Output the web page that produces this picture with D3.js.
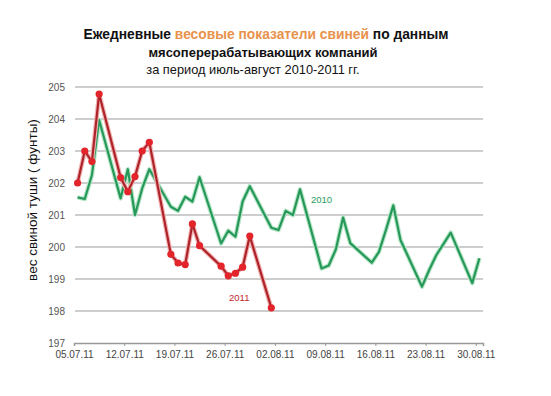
<!DOCTYPE html>
<html>
<head>
<meta charset="utf-8">
<script src="https://cdn.jsdelivr.net/npm/d3@7"></script>
<style>
  html, body { margin: 0; padding: 0; background: #fff; }
  svg { display: block; font-family: "Liberation Sans", Arial, sans-serif; }
</style>
</head>
<body>
<svg id="chart" width="551" height="396"></svg>
<script>
// ---- data ----
const dates2011 = ["2011-07-05","2011-07-06","2011-07-07","2011-07-08","2011-07-11","2011-07-12","2011-07-13","2011-07-14","2011-07-15","2011-07-18","2011-07-19","2011-07-20","2011-07-21","2011-07-22","2011-07-25","2011-07-26","2011-07-27","2011-07-28","2011-07-29","2011-08-01"];
const values2011 = [202.0,203.0,202.67,204.78,202.17,201.73,202.2,203.0,203.27,199.77,199.5,199.45,200.72,200.04,199.4,199.1,199.18,199.37,200.34,198.1];

const dates2010 = ["2011-07-05","2011-07-06","2011-07-07","2011-07-08","2011-07-11","2011-07-12","2011-07-13","2011-07-14","2011-07-15","2011-07-18","2011-07-19","2011-07-20","2011-07-21","2011-07-22","2011-07-25","2011-07-26","2011-07-27","2011-07-28","2011-07-29","2011-08-01","2011-08-02","2011-08-03","2011-08-04","2011-08-05","2011-08-08","2011-08-09","2011-08-10","2011-08-11","2011-08-12","2011-08-15","2011-08-16","2011-08-17","2011-08-18","2011-08-19","2011-08-22","2011-08-23","2011-08-24","2011-08-25","2011-08-26","2011-08-29","2011-08-30"];
const values2010 = [201.55,201.5,202.25,203.97,201.52,202.43,201.0,201.83,202.43,201.26,201.13,201.57,201.42,202.18,200.11,200.51,200.32,201.42,201.9,200.6,200.53,201.13,201.0,201.8,199.33,199.42,199.93,200.92,200.12,199.51,199.85,200.55,201.3,200.22,198.76,199.28,199.75,200.1,200.45,198.87,199.65];

const xTickDates = ["2011-07-05","2011-07-12","2011-07-19","2011-07-26","2011-08-02","2011-08-09","2011-08-16","2011-08-23","2011-08-30"];
const yTicks = [197,198,199,200,201,202,203,204,205];
const seriesNames = ["2010","2011"];

// ---- setup ----
const parse = d3.utcParse("%Y-%m-%d");
const fmt = d3.utcFormat("%d.%m.%y");
const svg = d3.select("#chart");

const x = d3.scaleUtc()
  .domain([parse("2011-07-05"), parse("2011-08-31")])
  .range([74, 483]);
const y = d3.scaleLinear().domain([197, 205]).range([343, 87]);

const noon = s => d3.utcHour.offset(parse(s), 12);

// gridlines
svg.append("g")
  .selectAll("line")
  .data(yTicks.filter(v => v !== 197))
  .join("line")
  .attr("x1", 75).attr("x2", 483)
  .attr("y1", d => y(d)).attr("y2", d => y(d))
  .attr("stroke", "#bdbdbd").attr("stroke-width", 1.5);

// y labels
svg.append("g")
  .selectAll("text")
  .data(yTicks)
  .join("text")
  .attr("x", 65).attr("y", d => y(d))
  .attr("dy", "0.35em")
  .attr("text-anchor", "end")
  .attr("font-size", 10)
  .attr("fill", "#555")
  .text(d => d);

// x axis
const xAxis = d3.axisBottom(x)
  .tickValues(xTickDates.map(parse))
  .tickFormat(fmt)
  .tickSize(3)
  .tickPadding(5);
const gx = svg.append("g").attr("transform", "translate(0,343)").call(xAxis);
gx.select(".domain").attr("stroke", "#999").attr("stroke-width", 1.5);
gx.selectAll(".tick line").attr("stroke", "#999");
gx.selectAll(".tick text").attr("font-size", 10).attr("fill", "#444")
  .attr("font-family", "'Liberation Sans', Arial, sans-serif");

// y title
svg.append("text")
  .attr("transform", "translate(37,200) rotate(-90)")
  .attr("text-anchor", "middle")
  .attr("font-size", 13.5)
  .attr("fill", "#111")
  .text("вес свиной туши ( фунты)");

// lines
const line = d3.line().x(d => x(noon(d[0]))).y(d => y(d[1]));
const d10 = dates2010.map((d, i) => [d, values2010[i]]);
const d11 = dates2011.map((d, i) => [d, values2011[i]]);

svg.append("path").datum(d10).attr("d", line)
  .attr("fill", "none").attr("stroke", "#b9e6c8").attr("stroke-width", 4.5)
  .attr("stroke-linejoin", "round");
svg.append("path").datum(d10).attr("d", line)
  .attr("fill", "none").attr("stroke", "#26995a").attr("stroke-width", 2.2)
  .attr("stroke-linejoin", "round");

svg.append("path").datum(d11).attr("d", line)
  .attr("fill", "none").attr("stroke", "#f1b3b3").attr("stroke-width", 4.5)
  .attr("stroke-linejoin", "round");
svg.append("path").datum(d11).attr("d", line)
  .attr("fill", "none").attr("stroke", "#ad2329").attr("stroke-width", 2.2)
  .attr("stroke-linejoin", "round");
svg.append("g").selectAll("circle").data(d11).join("circle")
  .attr("cx", d => x(noon(d[0]))).attr("cy", d => y(d[1]))
  .attr("r", 3.6).attr("fill", "#e3242b");

// series labels
svg.append("text").attr("x", 311).attr("y", 202.5)
  .attr("font-size", 9.5).attr("fill", "#2a9a5a").text(seriesNames[0]);
svg.append("text").attr("x", 229).attr("y", 300.5)
  .attr("font-size", 9.5).attr("fill", "#c0282c").text(seriesNames[1]);

// title
const t1 = svg.append("text").attr("x", 266).attr("y", 38.5)
  .attr("text-anchor", "middle").attr("font-size", 13.8).attr("font-weight", "bold").attr("fill", "#111");
t1.append("tspan").text("Ежедневные ");
t1.append("tspan").attr("fill", "#e8924c").text("весовые показатели свиней");
t1.append("tspan").text(" по данным");
svg.append("text").attr("x", 263).attr("y", 56.5)
  .attr("text-anchor", "middle").attr("font-size", 13).attr("font-weight", "bold").attr("fill", "#111")
  .text("мясоперерабатывающих компаний");
svg.append("text").attr("x", 253).attr("y", 74)
  .attr("text-anchor", "middle").attr("font-size", 12.8).attr("fill", "#111")
  .text("за период июль-август 2010-2011 гг.");
</script>
</body>
</html>
